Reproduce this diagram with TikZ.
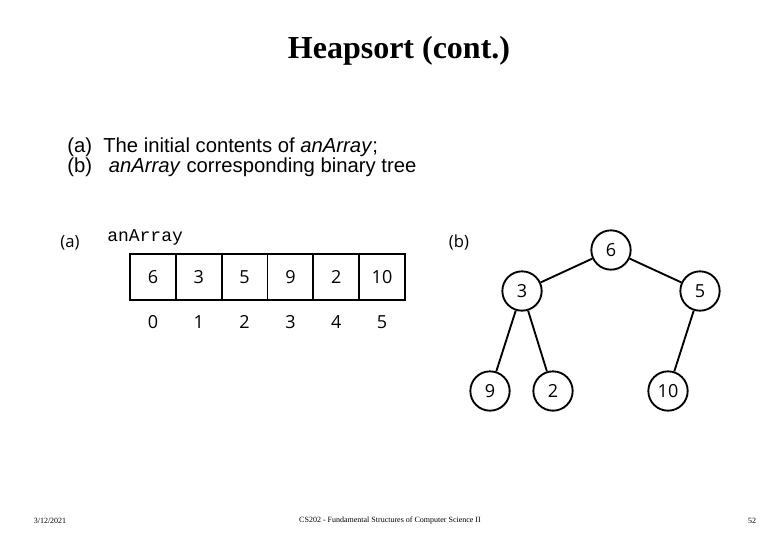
\documentclass[tikz,border=0pt]{standalone}
\usepackage{fontspec}
\setmainfont{Liberation Serif}
\newfontfamily\arialf{Liberation Sans}
\newfontfamily\figf{Open Sans}
\newfontfamily\monof{Liberation Mono}
\begin{document}
\begin{tikzpicture}[x=0.75pt,y=-0.75pt,
  cell/.style={draw,line width=1.4pt,minimum width=34.4pt,minimum height=34pt,inner sep=0pt,font=\figf\fontsize{13.5}{16}\selectfont,anchor=center},
  idx/.style={font=\figf\fontsize{13.5}{16}\selectfont,inner sep=0pt},
  tnode/.style={draw,circle,line width=1.4pt,minimum size=29.5pt,inner sep=0pt,font=\figf\fontsize{13.5}{16}\selectfont},
  edge/.style={line width=1.4pt},
  lbl/.style={font=\figf\fontsize{12.5}{15}\selectfont,inner sep=0pt},
  foot/.style={font=\fontsize{6}{7}\selectfont,inner sep=0pt}]
\useasboundingbox[fill=white] (0,0) rectangle (780,540);
\node[font=\bfseries\fontsize{24}{28}\selectfont,inner sep=0pt] (title) at (399,51) {Heapsort (cont.)};
\node[anchor=west,font=\arialf\fontsize{15.2}{18}\selectfont,inner sep=0pt] (la) at (67,147) {(a)\ \ The initial contents of \textit{anArray};};
\node[anchor=west,font=\arialf\fontsize{15.2}{18}\selectfont,inner sep=0pt] (lb) at (67,167) {(b)\ \ \ \textit{anArray} corresponding binary tree};
% (a)
\node[lbl] (pa) at (70,243) {(a)};
\node[anchor=west,font=\monof\fontsize{13.5}{16}\selectfont,inner sep=0pt] (aname) at (107,237) {anArray};
\foreach \v [count=\i from 0] in {6,3,5,9,2,10}{
  \node[cell] (c\i) at ({153+\i*45.8},277) {\v};
  \node[idx] (i\i) at ({153+\i*45.8},322) {\i};
}
% (b)
\node[lbl] (pb) at (459,242) {(b)};
\node[tnode] (n6) at (611,250) {6};
\node[tnode] (n3) at (522,291) {3};
\node[tnode] (n5) at (700,291) {5};
\node[tnode] (n9) at (490,391) {9};
\node[tnode] (n2) at (553,391) {2};
\node[tnode] (n10) at (668,391) {10};
\draw[edge] (n6) -- (n3);
\draw[edge] (n6) -- (n5);
\draw[edge] (n3) -- (n9);
\draw[edge] (n3) -- (n2);
\draw[edge] (n5) -- (n10);
% footer
\node[foot] (f1) at (50,521) {3/12/2021};
\node[foot] (f2) at (390,521) {CS202 - Fundamental Structures of Computer Science II};
\node[foot] (f3) at (752,521) {52};
\end{tikzpicture}
\end{document}
